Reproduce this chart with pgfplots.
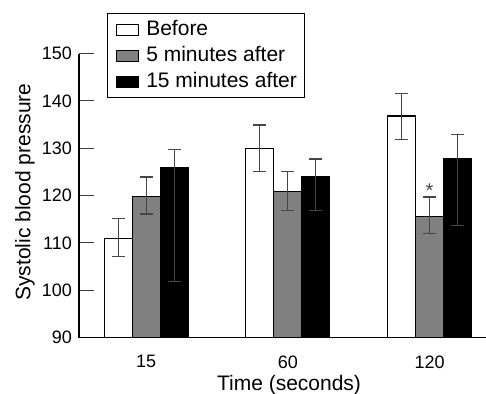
\documentclass[border=0pt]{standalone}
\usepackage{fontspec}
\setmainfont{Liberation Sans}
\usepackage{pgfplots}
\pgfplotsset{compat=1.18}
\definecolor{barGray}{RGB}{128,128,128}
\definecolor{errGray}{RGB}{70,70,70}
\begin{document}
\begin{tikzpicture}
\useasboundingbox (-39.5pt,-27.75pt) rectangle (203.5pt,168.75pt);
\begin{axis}[
  scale only axis, width=203.5pt, height=142pt,
  xmin=-0.474, xmax=2.398, ymin=90, ymax=150,
  axis lines*=left,
  axis line style={line width=0.6pt, black},
  ybar=0pt, bar width=14pt,
  xtick={0,1,2}, xticklabels={15,60,120},
  ytick={90,100,110,120,130,140,150},
  x tick style={draw=none},
  y tick style={line width=0.6pt, black!75},
  tick align=inside, major tick length=7.5pt,
  tick label style={font=\fontsize{9}{11}\selectfont},
  /pgf/number format/assume math mode=true,
  xticklabel style={yshift=-5.5pt},
  xlabel={Time (seconds)}, ylabel={Systolic blood pressure},
  label style={font=\fontsize{10.5}{13}\selectfont},
  xlabel style={at={(axis description cs:0.516,-0.166)}, anchor=center},
  ylabel style={at={(axis description cs:-0.133,0.512)}, anchor=center},
  legend style={at={(axis description cs:0.0688,1.1426)}, anchor=north west,
    draw=black, line width=0.6pt, inner xsep=0pt, inner ysep=1.5pt,
    font=\fontsize{10.5}{13}\selectfont,
    nodes={inner xsep=3.75pt, inner ysep=1.5pt, text height=7.7pt, text depth=2.3pt}},
  legend cell align=left,
  mybar/.style={draw=black, line width=0.6pt,
    error bars/.cd, y dir=both, y explicit,
    error bar style={errGray, line width=0.6pt},
    error mark options={rotate=90, errGray, mark size=3.25pt, line width=0.6pt},
    /pgfplots/.cd,
    legend image code/.code={\path (-4pt,0) (11pt,0); \draw[##1, line width=0.6pt] (0pt,-2.75pt) rectangle (11pt,2.75pt);}},
]
\addplot[mybar, fill=white] coordinates {
  (0,111) += (0,4.1) -= (0,3.9)
  (1,130) += (0,4.9) -= (0,5.0)
  (2,136.8) += (0,4.8) -= (0,4.9)
};
\addplot[mybar, fill=barGray] coordinates {
  (0,119.8) += (0,4.1) -= (0,3.7)
  (1,120.9) += (0,4.1) -= (0,4.1)
  (2,115.6) += (0,4.1) -= (0,3.7)
};
\addplot[mybar, fill=black] coordinates {
  (0,125.9) += (0,3.8) -= (0,24.1)
  (1,124) += (0,3.7) -= (0,7.1)
  (2,127.8) += (0,5.1) -= (0,14.2)
};
\legend{Before, 5 minutes after, 15 minutes after}
\node[font=\fontsize{10}{12}\selectfont, errGray, yshift=-2.3pt] at (axis cs:2,122) {*};
\end{axis}
\end{tikzpicture}
\end{document}
